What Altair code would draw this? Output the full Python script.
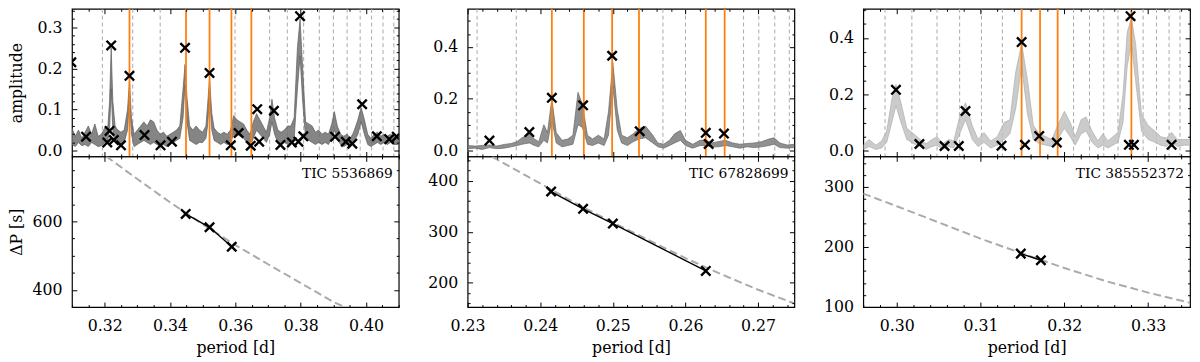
import altair as alt
import numpy as np
import pandas as pd

FONT = "DejaVu Serif"
W = 332
H_TOP = 150
H_BOT = 153
XPATH = "M -1 -1 L 1 1 M -1 1 L 1 -1"

# ---------------- Panel 1 : TIC 5536869 ----------------
p1_name = "TIC 5536869"
p1_period = [0.3100, 0.3110, 0.3120, 0.3130, 0.3140, 0.3150, 0.3160, 0.3170, 0.3180, 0.3190,
             0.3200, 0.3210, 0.3215, 0.3220, 0.3225, 0.3232, 0.3240, 0.3250, 0.3260, 0.3270,
             0.3276, 0.3282, 0.3290, 0.3300, 0.3310, 0.3320, 0.3330, 0.3340, 0.3350, 0.3360,
             0.3370, 0.3380, 0.3390, 0.3400, 0.3410, 0.3420, 0.3430, 0.3440, 0.3446, 0.3452,
             0.3460, 0.3470, 0.3480, 0.3490, 0.3500, 0.3510, 0.3515, 0.3521, 0.3528, 0.3535,
             0.3545, 0.3555, 0.3565, 0.3575, 0.3585, 0.3595, 0.3605, 0.3615, 0.3625, 0.3635,
             0.3645, 0.3655, 0.3665, 0.3675, 0.3685, 0.3695, 0.3705, 0.3712, 0.3720, 0.3730,
             0.3740, 0.3750, 0.3760, 0.3770, 0.3780, 0.3790, 0.3798, 0.3806, 0.3815, 0.3825,
             0.3835, 0.3845, 0.3855, 0.3865, 0.3875, 0.3885, 0.3895, 0.3903, 0.3912, 0.3922,
             0.3932, 0.3942, 0.3952, 0.3962, 0.3975, 0.3985, 0.3995, 0.4005, 0.4015, 0.4025,
             0.4035, 0.4045, 0.4055, 0.4065, 0.4075, 0.4085, 0.4100]
p1_low = [0.015, 0.010, 0.020, 0.012, 0.015, 0.010, 0.020, 0.015, 0.010, 0.012,
          0.020, 0.025, 0.050, 0.150, 0.050, 0.020, 0.015, 0.010, 0.020, 0.050,
          0.120, 0.040, 0.010, 0.015, 0.020, 0.025, 0.020, 0.015, 0.020, 0.015,
          0.010, 0.015, 0.010, 0.015, 0.020, 0.025, 0.030, 0.080, 0.160, 0.070,
          0.025, 0.020, 0.015, 0.020, 0.020, 0.030, 0.060, 0.130, 0.050, 0.025,
          0.020, 0.015, 0.020, 0.015, 0.020, 0.040, 0.040, 0.035, 0.030, 0.020,
          0.010, 0.030, 0.050, 0.040, 0.030, 0.020, 0.040, 0.070, 0.040, 0.020,
          0.015, 0.020, 0.015, 0.020, 0.030, 0.150, 0.230, 0.120, 0.030, 0.025,
          0.020, 0.015, 0.020, 0.015, 0.020, 0.015, 0.030, 0.050, 0.030, 0.015,
          0.010, 0.015, 0.010, 0.020, 0.040, 0.070, 0.040, 0.015, 0.010, 0.015,
          0.020, 0.015, 0.020, 0.015, 0.020, 0.015, 0.015]
p1_high = [0.055, 0.035, 0.050, 0.030, 0.045, 0.060, 0.040, 0.065, 0.035, 0.040,
           0.055, 0.060, 0.120, 0.250, 0.120, 0.060, 0.050, 0.045, 0.050, 0.100,
           0.170, 0.080, 0.040, 0.050, 0.060, 0.070, 0.060, 0.075, 0.070, 0.050,
           0.040, 0.045, 0.035, 0.040, 0.045, 0.050, 0.060, 0.150, 0.210, 0.130,
           0.060, 0.050, 0.060, 0.050, 0.045, 0.060, 0.110, 0.175, 0.090, 0.055,
           0.045, 0.040, 0.045, 0.040, 0.050, 0.085, 0.075, 0.070, 0.065, 0.050,
           0.040, 0.070, 0.090, 0.075, 0.060, 0.045, 0.080, 0.125, 0.080, 0.050,
           0.045, 0.050, 0.060, 0.060, 0.080, 0.250, 0.320, 0.200, 0.070, 0.065,
           0.060, 0.045, 0.050, 0.040, 0.045, 0.040, 0.065, 0.095, 0.060, 0.040,
           0.035, 0.040, 0.030, 0.045, 0.075, 0.105, 0.075, 0.040, 0.030, 0.040,
           0.045, 0.035, 0.040, 0.035, 0.040, 0.035, 0.035]
p1_dashed = [0.3193, 0.3286, 0.3370, 0.3599, 0.3705, 0.3759, 0.3809, 0.3857, 0.3900,
             0.3942, 0.3982, 0.4017, 0.4052, 0.4085]
p1_orange = [0.3276, 0.3449, 0.3521, 0.3588, 0.3649]
p1_mark_period = [0.3098, 0.3143, 0.3220, 0.3215, 0.3208, 0.3228, 0.3250, 0.3276, 0.3322,
                  0.3371, 0.3406, 0.3446, 0.3521, 0.3586, 0.3610, 0.3647, 0.3673, 0.3667,
                  0.3718, 0.3738, 0.3773, 0.3793, 0.3798, 0.3808, 0.3905, 0.3938, 0.3958,
                  0.3988, 0.4033, 0.4071, 0.4094]
p1_mark_amp = [0.215, 0.034, 0.256, 0.048, 0.020, 0.026, 0.013, 0.182, 0.038,
               0.013, 0.022, 0.250, 0.189, 0.013, 0.043, 0.012, 0.022, 0.101,
               0.097, 0.014, 0.020, 0.022, 0.327, 0.035, 0.034, 0.022, 0.017,
               0.113, 0.035, 0.028, 0.034]
p1_curve_period = [0.3205, 0.330, 0.340, 0.350, 0.360, 0.370, 0.380, 0.390, 0.3935]
p1_curve_dp = [790, 724, 656, 592, 531, 475, 420, 365, 350]
p1_sel_period = [0.3448, 0.3521, 0.3589]
p1_sel_dp = [622, 583, 526]

# ---------------- Panel 2 : TIC 67828699 ----------------
p2_name = "TIC 67828699"
p2_period = [0.2300, 0.2310, 0.2320, 0.2330, 0.2340, 0.2350, 0.2360, 0.2368, 0.2375, 0.2385,
             0.2392, 0.2398, 0.2405, 0.2410, 0.2416, 0.2422, 0.2430, 0.2438, 0.2445, 0.2452,
             0.2458, 0.2465, 0.2472, 0.2480, 0.2488, 0.2494, 0.2500, 0.2506, 0.2512, 0.2520,
             0.2528, 0.2536, 0.2545, 0.2555, 0.2562, 0.2570, 0.2578, 0.2585, 0.2593, 0.2600,
             0.2610, 0.2620, 0.2628, 0.2636, 0.2645, 0.2655, 0.2665, 0.2675, 0.2685, 0.2695,
             0.2705, 0.2715, 0.2722, 0.2730, 0.2740, 0.2750]
p2_low = [0.008, 0.010, 0.005, 0.012, 0.008, 0.010, 0.015, 0.020, 0.025, 0.030,
          0.020, 0.015, 0.040, 0.030, 0.120, 0.030, 0.015, 0.020, 0.025, 0.100,
          0.090, 0.025, 0.020, 0.030, 0.020, 0.060, 0.250, 0.080, 0.030, 0.020,
          0.035, 0.045, 0.050, 0.030, 0.015, 0.010, 0.020, 0.030, 0.040, 0.020,
          0.010, 0.020, 0.020, 0.015, 0.015, 0.020, 0.015, 0.010, 0.015, 0.012,
          0.015, 0.020, 0.025, 0.012, 0.010, 0.012]
p2_high = [0.020, 0.018, 0.020, 0.022, 0.018, 0.024, 0.028, 0.035, 0.050, 0.065,
           0.045, 0.035, 0.100, 0.070, 0.200, 0.070, 0.040, 0.045, 0.060, 0.225,
           0.180, 0.060, 0.045, 0.060, 0.045, 0.150, 0.340, 0.160, 0.060, 0.050,
           0.065, 0.085, 0.095, 0.060, 0.030, 0.025, 0.040, 0.065, 0.078, 0.040,
           0.025, 0.040, 0.042, 0.030, 0.035, 0.040, 0.030, 0.025, 0.028, 0.030,
           0.035, 0.045, 0.050, 0.030, 0.022, 0.025]
p2_dashed = [0.2313, 0.2367, 0.2569, 0.2600, 0.2680, 0.2701, 0.2723, 0.2743]
p2_orange = [0.2416, 0.2460, 0.2499, 0.2536, 0.2628, 0.2654]
p2_mark_period = [0.2330, 0.2385, 0.2416, 0.2459, 0.2499, 0.2537, 0.2628, 0.2632, 0.2653]
p2_mark_amp = [0.039, 0.072, 0.204, 0.175, 0.366, 0.075, 0.069, 0.026, 0.066]
p2_curve_period = [0.2334, 0.240, 0.245, 0.250, 0.255, 0.260, 0.265, 0.270, 0.275]
p2_curve_dp = [447, 395, 355, 318, 283, 248, 216, 186, 159]
p2_sel_period = [0.2415, 0.2459, 0.2500, 0.2628]
p2_sel_dp = [379, 345, 316, 223]

# ---------------- Panel 3 : TIC 385552372 ----------------
p3_name = "TIC 385552372"
p3_period = [0.2960, 0.2967, 0.2975, 0.2982, 0.2988, 0.2994, 0.2999, 0.3005, 0.3012, 0.3020,
             0.3028, 0.3035, 0.3042, 0.3048, 0.3055, 0.3062, 0.3068, 0.3075, 0.3082, 0.3090,
             0.3097, 0.3104, 0.3112, 0.3120, 0.3128, 0.3135, 0.3142, 0.3149, 0.3156, 0.3163,
             0.3170, 0.3178, 0.3185, 0.3192, 0.3200, 0.3207, 0.3213, 0.3220, 0.3226, 0.3233,
             0.3240, 0.3246, 0.3252, 0.3258, 0.3264, 0.3270, 0.3275, 0.3280, 0.3285, 0.3292,
             0.3300, 0.3308, 0.3315, 0.3322, 0.3328, 0.3335, 0.3343, 0.3350]
p3_low = [0.005, 0.015, 0.005, 0.010, 0.030, 0.100, 0.160, 0.100, 0.040, 0.025,
          0.015, 0.005, 0.015, 0.020, 0.005, 0.015, 0.010, 0.060, 0.110, 0.040,
          0.015, 0.030, 0.010, 0.020, 0.040, 0.060, 0.150, 0.300, 0.130, 0.040,
          0.025, 0.020, 0.015, 0.040, 0.080, 0.050, 0.020, 0.060, 0.070, 0.030,
          0.010, 0.020, 0.010, 0.020, 0.030, 0.100, 0.300, 0.380, 0.250, 0.070,
          0.040, 0.030, 0.020, 0.015, 0.030, 0.015, 0.020, 0.020]
p3_high = [0.020, 0.040, 0.020, 0.035, 0.070, 0.180, 0.235, 0.170, 0.080, 0.060,
           0.040, 0.025, 0.040, 0.050, 0.025, 0.040, 0.035, 0.120, 0.170, 0.090,
           0.040, 0.065, 0.035, 0.050, 0.100, 0.110, 0.280, 0.380, 0.250, 0.090,
           0.060, 0.050, 0.040, 0.090, 0.140, 0.100, 0.050, 0.110, 0.120, 0.070,
           0.035, 0.060, 0.035, 0.050, 0.065, 0.200, 0.420, 0.470, 0.380, 0.130,
           0.090, 0.070, 0.050, 0.045, 0.065, 0.040, 0.040, 0.040]
p3_dashed = [0.2986, 0.3018, 0.3048, 0.3075, 0.3101, 0.3126, 0.3211, 0.3230, 0.3247,
             0.3264, 0.3294, 0.3310, 0.3325, 0.3338]
p3_orange = [0.3149, 0.3171, 0.3192, 0.3280]
p3_mark_period = [0.2999, 0.3027, 0.3057, 0.3074, 0.3082, 0.3125, 0.3149, 0.3153, 0.3170,
                  0.3191, 0.3279, 0.3277, 0.3283, 0.3328]
p3_mark_amp = [0.216, 0.024, 0.017, 0.017, 0.141, 0.018, 0.385, 0.021, 0.052,
               0.029, 0.477, 0.021, 0.021, 0.021]
p3_curve_period = [0.296, 0.300, 0.305, 0.310, 0.3148, 0.320, 0.325, 0.330, 0.335]
p3_curve_dp = [289, 268, 241, 214, 190, 165, 143, 124, 107]
p3_sel_period = [0.3148, 0.3172]
p3_sel_dp = [189, 178]


def minor_ticks(lo, hi, step, major):
    vals = np.round(np.arange(lo, hi + step / 2, step), 6)
    return [float(v) for v in vals if all(abs(v - m) > step / 4 for m in major)]


def tick_layers(xs, ys, xdom, ydom, xmaj, xmin, ymaj, ymin):
    dummy = pd.DataFrame({"x": [sum(xdom) / 2], "y": [sum(ydom) / 2]})
    out = []
    for orient in ("bottom", "top"):
        for vals, size in ((xmaj, 5), (xmin, 2.5)):
            out.append(alt.Chart(dummy).mark_point(opacity=0).encode(
                x=alt.X("x:Q", scale=xs, axis=alt.Axis(
                    orient=orient, values=vals, ticks=True, tickSize=size, offset=-size,
                    labels=False, domain=False, grid=False, title=None, minExtent=0,
                    maxExtent=0, tickColor="black", tickWidth=1, zindex=3)),
                y=alt.Y("y:Q", scale=ys, axis=None)))
    for orient in ("left", "right"):
        for vals, size in ((ymaj, 5), (ymin, 2.5)):
            out.append(alt.Chart(dummy).mark_point(opacity=0).encode(
                x=alt.X("x:Q", scale=xs, axis=None),
                y=alt.Y("y:Q", scale=ys, axis=alt.Axis(
                    orient=orient, values=vals, ticks=True, tickSize=size, offset=-size,
                    labels=False, domain=False, grid=False, title=None, minExtent=0,
                    maxExtent=0, tickColor="black", tickWidth=1, zindex=3))))
    return out


def label_layers(xs, ys, xdom, ydom, yvals, yfmt, ytitle, extent, xvals=None, xfmt=None):
    dummy = pd.DataFrame({"x": [sum(xdom) / 2], "y": [sum(ydom) / 2]})
    ykw = dict(orient="left", values=yvals, format=yfmt, ticks=False, tickSize=0,
               domain=False, grid=False, labelPadding=10, minExtent=extent,
               maxExtent=extent, labelOverlap=False, zindex=3,
               labelFont=FONT, labelFontSize=16, labelColor="black")
    if ytitle:
        ykw.update(title=ytitle, titlePadding=6, titleFont=FONT, titleFontSize=16,
                   titleFontWeight="normal", titleColor="black")
    else:
        ykw.update(title=None)
    out = [alt.Chart(dummy).mark_point(opacity=0).encode(
        x=alt.X("x:Q", scale=xs, axis=None),
        y=alt.Y("y:Q", scale=ys, axis=alt.Axis(**ykw)))]
    if xvals is not None:
        out.append(alt.Chart(dummy).mark_point(opacity=0).encode(
            x=alt.X("x:Q", scale=xs, axis=alt.Axis(
                orient="bottom", values=xvals, format=xfmt, ticks=False, tickSize=0,
                domain=False, grid=False, labelPadding=11, labelFlush=False,
                labelOverlap=False, title="period [d]", titlePadding=6, zindex=3,
                labelFont=FONT, labelFontSize=16, labelColor="black",
                titleFont=FONT, titleFontSize=16, titleFontWeight="normal",
                titleColor="black")),
            y=alt.Y("y:Q", scale=ys, axis=None)))
    return out


def make_column(name, period, low, high, dashed, orange, mper, mamp, cper, cdp, sper, sdp,
                xdom, ydom_top, ydom_bot, xmaj, xstep, ymaj_top, ystep_top, ymaj_bot,
                ystep_bot, band_fill, band_edge, first):
    xs = alt.Scale(domain=xdom, nice=False, zero=False)
    yst = alt.Scale(domain=ydom_top, nice=False, zero=False)
    ysb = alt.Scale(domain=ydom_bot, nice=False, zero=False)
    xmin = minor_ticks(xdom[0], xdom[1], xstep, xmaj)
    ymin_t = minor_ticks(0, ydom_top[1], ystep_top, ymaj_top)
    ymin_b = minor_ticks(ydom_bot[0] - ydom_bot[0] % ystep_bot, ydom_bot[1], ystep_bot, ymaj_bot)
    ymin_b = [v for v in ymin_b if ydom_bot[0] <= v <= ydom_bot[1]]
    ymin_t = [v for v in ymin_t if ydom_top[0] <= v <= ydom_top[1]]
    xmin = [v for v in xmin if xdom[0] <= v <= xdom[1]]
    ext = 42 if first else 40

    band = pd.DataFrame({"period": period, "low": low, "high": high})
    dsh = pd.DataFrame({"period": dashed})
    ora = pd.DataFrame({"period": orange})
    mk = pd.DataFrame({"period": mper, "amp": mamp})
    X = alt.X("period:Q", scale=xs, axis=None)

    top_layers = [
        alt.Chart(dsh).mark_rule(color="#a8a8a8", strokeDash=[4, 3], strokeWidth=1, clip=True)
        .encode(x=X),
        alt.Chart(band).mark_area(color=band_fill, opacity=0.85, clip=True).encode(
            x=X, y=alt.Y("low:Q", scale=yst, axis=None), y2="high:Q"),
        alt.Chart(band).mark_line(color=band_edge, strokeWidth=0.7, clip=True).encode(
            x=X, y=alt.Y("high:Q", scale=yst, axis=None)),
        alt.Chart(band).mark_line(color=band_edge, strokeWidth=0.7, clip=True).encode(
            x=X, y=alt.Y("low:Q", scale=yst, axis=None)),
        alt.Chart(ora).mark_rule(color="#ff7f0e", strokeWidth=1.8, clip=True).encode(x=X),
        alt.Chart(mk).mark_point(shape=XPATH, filled=False, size=90, strokeWidth=2.4,
                                 color="black", opacity=1, clip=True).encode(
            x=X, y=alt.Y("amp:Q", scale=yst, axis=None)),
    ]
    top_layers += label_layers(xs, yst, xdom, ydom_top, ymaj_top, ".1f",
                               "amplitude" if first else None, ext)
    top_layers += tick_layers(xs, yst, xdom, ydom_top, xmaj, xmin, ymaj_top, ymin_t)
    top = alt.layer(*top_layers).resolve_axis(x="independent", y="independent").properties(
        width=W, height=H_TOP)

    cur = pd.DataFrame({"period": cper, "dp": cdp})
    sel = pd.DataFrame({"period": sper, "dp": sdp})
    lab = pd.DataFrame({"label": [name]})
    bot_layers = [
        alt.Chart(cur).mark_line(color="#aaaaaa", strokeDash=[8, 4], strokeWidth=2, clip=True)
        .encode(x=X, y=alt.Y("dp:Q", scale=ysb, axis=None)),
        alt.Chart(sel).mark_line(color="black", strokeWidth=1.4, clip=True).encode(
            x=X, y=alt.Y("dp:Q", scale=ysb, axis=None)),
        alt.Chart(sel).mark_point(shape=XPATH, filled=False, size=90, strokeWidth=2.4,
                                  color="black", opacity=1, clip=True).encode(
            x=X, y=alt.Y("dp:Q", scale=ysb, axis=None)),
        alt.Chart(lab).mark_text(align="right", baseline="middle", font=FONT, fontSize=14,
                                 color="black").encode(
            x=alt.value(W - 6), y=alt.value(18), text="label:N"),
    ]
    bot_layers += label_layers(xs, ysb, xdom, ydom_bot, ymaj_bot, "d",
                               "ΔP [s]" if first else None, ext,
                               xvals=xmaj, xfmt=".2f")
    bot_layers += tick_layers(xs, ysb, xdom, ydom_bot, xmaj, xmin, ymaj_bot, ymin_b)
    bot = alt.layer(*bot_layers).resolve_axis(x="independent", y="independent").properties(
        width=W, height=H_BOT)
    return alt.vconcat(top, bot, spacing=0, bounds="flush")


col1 = make_column(p1_name, p1_period, p1_low, p1_high, p1_dashed, p1_orange,
                   p1_mark_period, p1_mark_amp, p1_curve_period, p1_curve_dp,
                   p1_sel_period, p1_sel_dp,
                   [0.31, 0.41], [-0.014, 0.345], [350, 790],
                   [0.32, 0.34, 0.36, 0.38, 0.40], 0.005,
                   [0.0, 0.1, 0.2, 0.3], 0.02, [400, 600], 50,
                   "#707070", "#5a5a5a", True)
col2 = make_column(p2_name, p2_period, p2_low, p2_high, p2_dashed, p2_orange,
                   p2_mark_period, p2_mark_amp, p2_curve_period, p2_curve_dp,
                   p2_sel_period, p2_sel_dp,
                   [0.23, 0.275], [-0.022, 0.547], [152, 448],
                   [0.23, 0.24, 0.25, 0.26, 0.27], 0.002,
                   [0.0, 0.2, 0.4], 0.05, [200, 300, 400], 20,
                   "#7c7c7c", "#666666", False)
col3 = make_column(p3_name, p3_period, p3_low, p3_high, p3_dashed, p3_orange,
                   p3_mark_period, p3_mark_amp, p3_curve_period, p3_curve_dp,
                   p3_sel_period, p3_sel_dp,
                   [0.296, 0.335], [-0.02, 0.503], [100, 351],
                   [0.30, 0.31, 0.32, 0.33], 0.002,
                   [0.0, 0.2, 0.4], 0.05, [100, 200, 300], 20,
                   "#c2c2c2", "#adadad", False)

chart = alt.hconcat(col1, col2, col3, spacing=26).properties(
    padding={"left": 0, "top": -4, "right": 0, "bottom": 0}
).configure(font=FONT).configure_axis(
    labelFont=FONT, titleFont=FONT, labelFontSize=16, titleFontSize=16,
    titleFontWeight="normal", labelColor="black", titleColor="black"
).configure_view(stroke="black", strokeWidth=1.2)

chart.save("out.html", embed_options={"renderer": "svg", "actions": False})
